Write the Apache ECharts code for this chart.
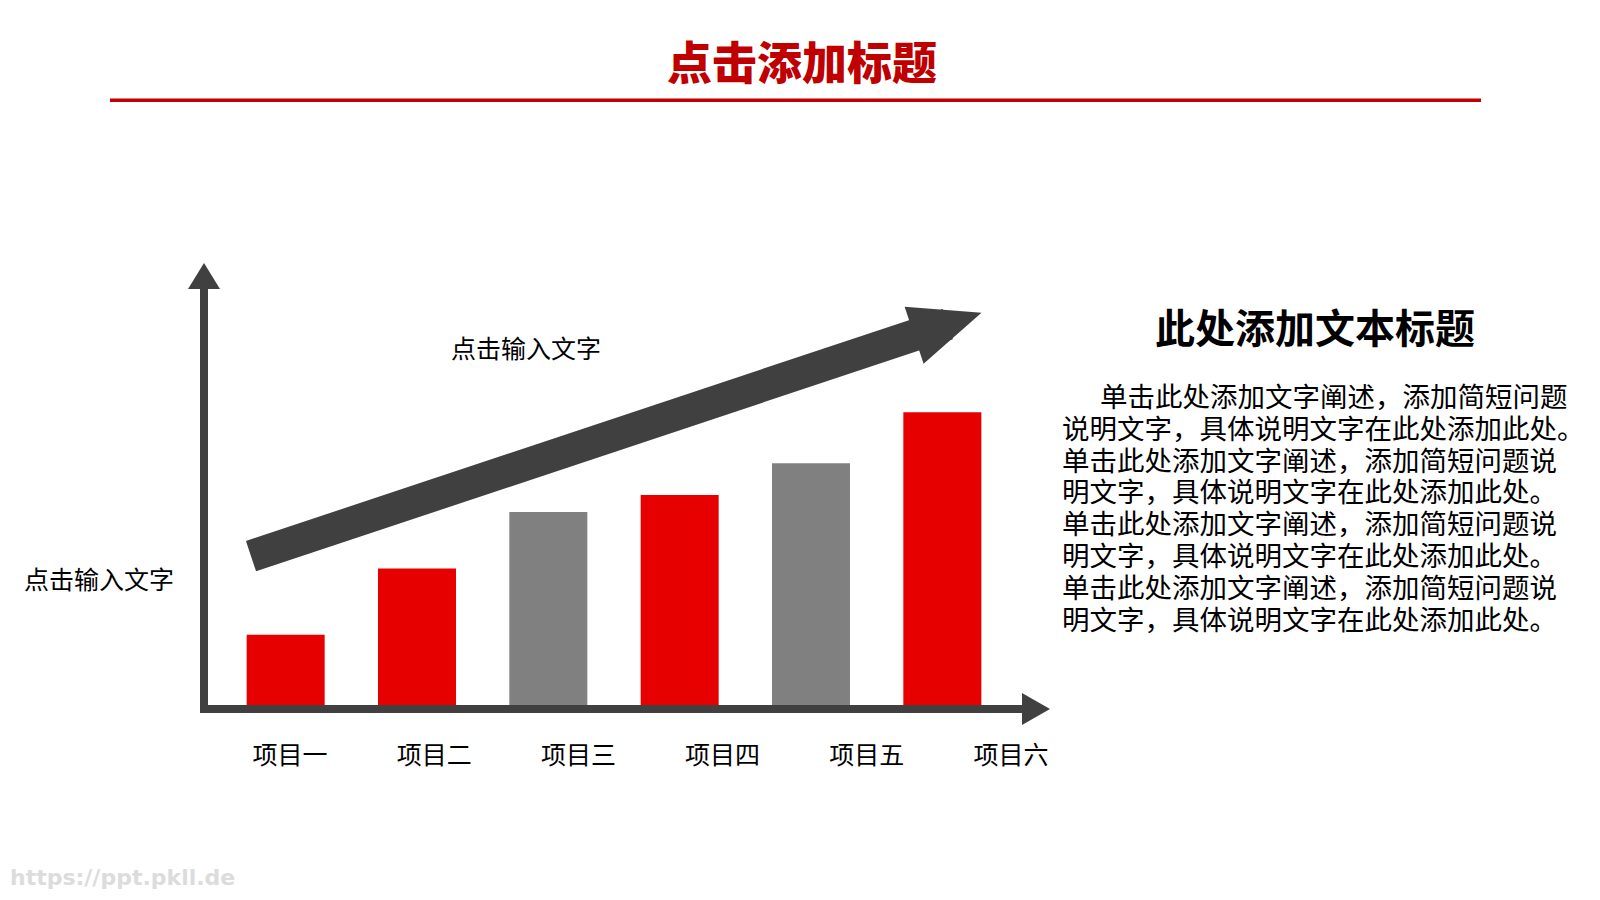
<!DOCTYPE html>
<html lang="zh-CN">

<head>
  <meta charset="UTF-8">
  <title>点击添加标题</title>
  <style>
    body,
    html {
      margin: 0;
      padding: 0;
      background: #fff;
    }

    #chart {
      width: 1600px;
      height: 900px;
    }
  </style>
</head>

<body>
  <div id="chart"></div>
  <script src="https://cdn.jsdelivr.net/npm/echarts@6/dist/echarts.min.js"></script>
  <script>
    // 数据
    var categories = ['项目一', '项目二', '项目三', '项目四', '项目五', '项目六'];
    var values = [23.4, 45.5, 64.3, 70, 80.6, 97.6];
    // 趋势箭头（在坐标框内的 0-100 比例坐标）
    var trendFrom = [5.65, 35.3];
    var trendTo = [89.4, 88.9];

    var barColors = ['#E60000', '#E60000', '#808080', '#E60000', '#808080', '#E60000'];
    var fontCJK = '"Noto Sans CJK SC", "Noto Sans", sans-serif';

    var paragraphLines = [
      '单击此处添加文字阐述，添加简短问题',
      '说明文字，具体说明文字在此处添加此处。',
      '单击此处添加文字阐述，添加简短问题说',
      '明文字，具体说明文字在此处添加此处。',
      '单击此处添加文字阐述，添加简短问题说',
      '明文字，具体说明文字在此处添加此处。',
      '单击此处添加文字阐述，添加简短问题说',
      '明文字，具体说明文字在此处添加此处。'
    ];

    var myChart = echarts.init(document.getElementById('chart'), null, { renderer: 'svg' });

    function textTitle(text, x, y, size, weight, color) {
      return {
        text: text,
        left: x,
        top: y,
        padding: 0,
        textAlign: 'center',
        textVerticalAlign: 'middle',
        textStyle: {
          fontFamily: fontCJK,
          fontSize: size,
          fontWeight: weight,
          color: color
        }
      };
    }

    var paragraphText = paragraphLines.map(function (line, i) {
      return (i === 0 ? '{a|' : '{b|') + line + '}';
    }).join('\n');

    var option = {
      animation: false,
      backgroundColor: '#fff',
      title: [
        textTitle('点击添加标题', 802, 60, 45, 900, '#C00000'),
        textTitle('此处添加文本标题', 1315, 326, 40, 'bold', '#000'),
        textTitle('点击输入文字', 526, 347, 25, 'normal', '#000'),
        textTitle('点击输入文字', 99, 578, 25, 'normal', '#000'),
        {
          text: paragraphText,
          left: 1062,
          top: 379,
          padding: 0,
          textAlign: 'left',
          textVerticalAlign: 'top',
          textStyle: {
            fontFamily: fontCJK,
            fontWeight: 'normal',
            rich: {
              a: {
                fontFamily: fontCJK,
                fontWeight: 'normal',
                fontSize: 27.5,
                lineHeight: 31.8,
                color: '#000',
                padding: [0, 0, 0, 38]
              },
              b: {
                fontFamily: fontCJK,
                fontWeight: 'normal',
                fontSize: 27.5,
                lineHeight: 31.8,
                color: '#000'
              }
            }
          }
        },
        {
          text: 'https://ppt.pkll.de',
          left: 10,
          top: 877,
          padding: 0,
          textAlign: 'left',
          textVerticalAlign: 'middle',
          textStyle: {
            fontFamily: '"DejaVu Sans", sans-serif',
            fontSize: 22,
            fontWeight: 'bold',
            color: '#DCDCDC'
          }
        }
      ],
      graphic: [{
        type: 'rect',
        shape: { x: 110, y: 98.5, width: 1371, height: 3.5 },
        style: { fill: '#C00000' },
        silent: true
      }],
      grid: [
        // 柱子
        { left: 220, right: 592, top: 405, bottom: 195 },
        // 坐标箭头
        { left: 204, right: 564, top: 276, bottom: 191 },
        // 类目文字
        { left: 218, right: 517, top: 276, bottom: 191 }
      ],
      xAxis: [
        {
          gridIndex: 0,
          type: 'category',
          data: categories,
          show: false
        },
        {
          gridIndex: 1,
          type: 'value',
          min: 0,
          max: 100,
          axisLine: {
            show: true,
            onZero: false,
            symbol: ['none', 'triangle'],
            symbolSize: [32, 28],
            lineStyle: { color: '#404040', width: 8, cap: 'square' }
          },
          axisTick: { show: false },
          axisLabel: { show: false },
          splitLine: { show: false }
        },
        {
          gridIndex: 2,
          type: 'category',
          data: categories,
          axisLine: { show: false },
          axisTick: { show: false },
          splitLine: { show: false },
          axisLabel: {
            margin: 31.5,
            fontFamily: fontCJK,
            fontSize: 25,
            lineHeight: 25,
            color: '#000'
          }
        }
      ],
      yAxis: [
        {
          gridIndex: 0,
          type: 'value',
          min: 0,
          max: 100,
          show: false
        },
        {
          gridIndex: 1,
          type: 'value',
          min: 0,
          max: 100,
          axisLine: {
            show: true,
            onZero: false,
            symbol: ['none', 'triangle'],
            symbolSize: [32, 26],
            lineStyle: { color: '#404040', width: 8, cap: 'square' }
          },
          axisTick: { show: false },
          axisLabel: { show: false },
          splitLine: { show: false }
        },
        {
          gridIndex: 2,
          type: 'value',
          show: false
        }
      ],
      series: [
        {
          type: 'bar',
          xAxisIndex: 0,
          yAxisIndex: 0,
          barWidth: 78,
          silent: true,
          data: values.map(function (v, i) {
            return { value: v, itemStyle: { color: barColors[i] } };
          })
        },
        {
          type: 'line',
          xAxisIndex: 1,
          yAxisIndex: 1,
          data: [],
          silent: true,
          markLine: {
            silent: true,
            animation: false,
            label: { show: false },
            emphasis: { disabled: true },
            lineStyle: { color: '#404040', width: 32, type: 'solid', cap: 'butt' },
            data: [[
              { coord: trendFrom, symbol: 'none' },
              { coord: trendTo, symbol: 'triangle', symbolSize: [60, 71] }
            ]]
          }
        }
      ]
    };
    myChart.setOption(option);
  </script>
</body>

</html>
